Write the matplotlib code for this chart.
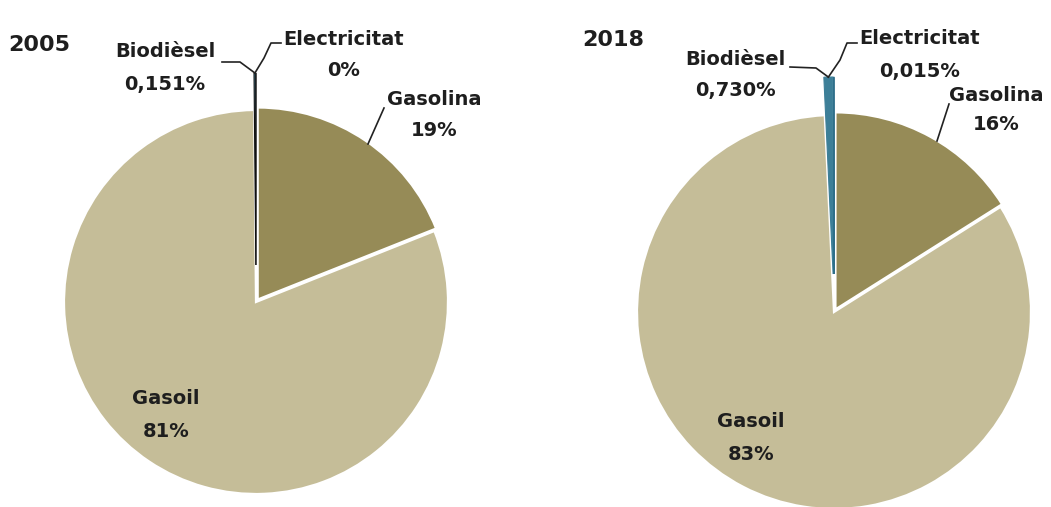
import numpy as np
import matplotlib
matplotlib.use("Agg")
import matplotlib.pyplot as plt

# ---- data ----
categories = ["Gasolina", "Gasoil", "Biodièsel", "Electricitat"]
years = ["2005", "2018"]
values_2005 = [19, 81, 0.151, 0]
values_2018 = [16, 83, 0.730, 0.015]
pct_labels_2005 = ["19%", "81%", "0,151%", "0%"]
pct_labels_2018 = ["16%", "83%", "0,730%", "0,015%"]

colors = ["#968B57", "#C5BD98", "#3D7F98", "#2F6F8A"]
TXT = "#1E1E1E"
W, H = 1051, 507

plt.rcParams['font.family'] = ['DejaVu Sans']

fig = plt.figure(figsize=(W / 100, H / 100), dpi=100)
ax = fig.add_axes([0, 0, 1, 1])
ax.set_xlim(0, W)
ax.set_ylim(0, H)
ax.set_aspect('equal')
ax.axis('off')


def P(x, y):
    return (x, H - y)


# layout per pie (pixel coords, y downward)
layouts = [
    dict(center=(256, 302), radius=192, explode=[3, 0, 37, 37], bio_edge="#111111",
         title_xy=(8, 45), spacing=[1.75, 1.9, 1.9, 1.75],
         label_xy={"Gasolina": (434, 115), "Gasoil": (166, 415),
                   "Biodièsel": (165, 68), "Electricitat": (344, 55)},
         leader={"Gasolina": [(368, 144), (384, 108)],
                 "Biodièsel": [(222, 62), (240, 62)],
                 "Electricitat": [(264, 58), (271, 43), (281, 43)]}),
    dict(center=(834, 312), radius=197, explode=[3, 0, 38, 38], bio_edge=None,
         title_xy=(582, 40), spacing=[1.7, 1.9, 1.85, 1.95],
         label_xy={"Gasolina": (996, 110), "Gasoil": (751, 438),
                   "Biodièsel": (735, 75), "Electricitat": (920, 55)},
         leader={"Gasolina": [(937, 141), (949, 104)],
                 "Biodièsel": [(790, 67), (816, 68)],
                 "Electricitat": [(840, 60), (847, 43), (857, 43)]}),
]

all_values = [values_2005, values_2018]
all_pcts = [pct_labels_2005, pct_labels_2018]

for year, vals, pcts, lay in zip(years, all_values, all_pcts, layouts):
    cx, cy = lay["center"]
    wedges, _ = ax.pie(vals, colors=colors, startangle=90, counterclock=False,
                       radius=lay["radius"], center=P(cx, cy),
                       explode=lay["explode"], normalize=True,
                       wedgeprops=dict(edgecolor="white", linewidth=1.6))
    # thin slices: no white border swallowing them
    for k in (2, 3):
        ec = lay["bio_edge"] if lay["bio_edge"] else colors[k]
        wedges[k].set_edgecolor(ec)
        wedges[k].set_linewidth(0.8)
    ax.set_xlim(0, W)
    ax.set_ylim(0, H)

    ax.text(*P(*lay["title_xy"]), year, fontsize=16, fontweight='bold',
            color=TXT, ha='left', va='center')

    # anchor on top of the exploded thin slices
    w_bio = wedges[2]
    th = np.deg2rad(0.5 * (w_bio.theta1 + w_bio.theta2))
    bx, by = w_bio.center
    top = (bx + w_bio.r * np.cos(th), by + w_bio.r * np.sin(th))

    for i, cat in enumerate(categories):
        lx, ly = lay["label_xy"][cat]
        ax.text(*P(lx, ly), f"{cat}\n{pcts[i]}", fontsize=14, fontweight='bold',
                color=TXT, ha='center', va='center', linespacing=lay["spacing"][i])

    # leaders
    pts = lay["leader"]["Gasolina"]
    ax.plot([p[0] for p in pts], [H - p[1] for p in pts], color="#222222", lw=1.2)
    for cat in ("Biodièsel", "Electricitat"):
        pts = lay["leader"][cat]
        if cat == "Biodièsel":
            seq = [P(*p) for p in pts] + [top]
        else:
            seq = [top] + [P(*p) for p in pts]
        ax.plot([p[0] for p in seq], [p[1] for p in seq], color="#222222", lw=1.2)

fig.savefig("out.png", dpi=100, facecolor="white")
